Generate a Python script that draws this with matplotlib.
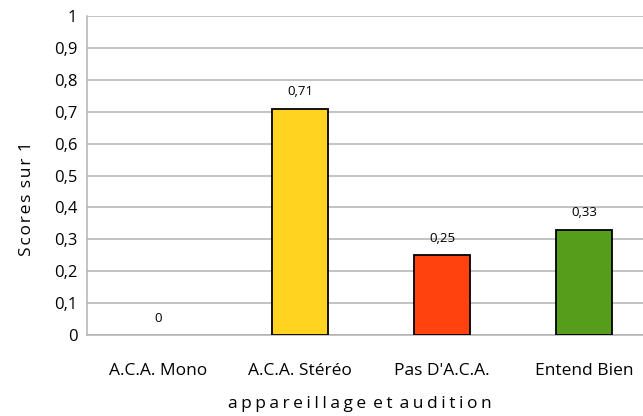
import matplotlib.pyplot as plt

categories = ["A.C.A. Mono", "A.C.A. Stéréo", "Pas D'A.C.A.", "Entend Bien"]
scores = [0, 0.71, 0.25, 0.33]
value_labels = ["0", "0,71", "0,25", "0,33"]
colors = ["#FFD320", "#FFD320", "#FF420E", "#579D1C"]
y_ticks = [0, 0.1, 0.2, 0.3, 0.4, 0.5, 0.6, 0.7, 0.8, 0.9, 1]
x_title = "appareillage et audition"
y_title = "Scores sur 1"

plt.rcParams['font.family'] = ['Open Sans', 'DejaVu Sans']


def spaced(text, gap="\u200a"):
    # stretch the letters apart, like the spreadsheet titles
    return gap.join(text.replace(" ", "\u2009"))


fig = plt.figure(figsize=(6.43, 4.16), dpi=100)
# the plot area runs past the right edge of the picture
ax = fig.add_axes([87 / 643, 81 / 416, 568 / 643, 319 / 416])

x = range(len(categories))
edges = ["black" if v > 0 else "none" for v in scores]
ax.bar(x, scores, width=0.40, color=colors, edgecolor=edges, linewidth=1.3, zorder=3)

for xi, val, lab in zip(x, scores, value_labels):
    ax.text(xi, val + 0.053, lab, ha="center", va="center", fontsize=9.5, color="black")

ax.set_ylim(0, 1)
ax.set_xlim(-0.5, 3.5)
ax.set_yticks(y_ticks)
ax.set_yticklabels([("%g" % t).replace(".", ",") for t in y_ticks], fontsize=12)
ax.set_xticks(list(x))
ax.set_xticklabels(categories, fontsize=12.5)
ax.tick_params(axis="y", length=0, pad=7)
ax.tick_params(axis="x", length=0, pad=20)

ax.yaxis.grid(True, color="#b3b3b3", linewidth=1.1, zorder=0)
for side in ["top", "right"]:
    ax.spines[side].set_visible(False)
for side in ["left", "bottom"]:
    ax.spines[side].set_color("#b3b3b3")
    ax.spines[side].set_linewidth(1.1)

ax.set_ylabel(spaced(y_title), fontsize=12.5)
ax.set_xlabel(spaced(x_title, "\u200a\u200a").replace("\u2009", ""), fontsize=12.5)
ax.yaxis.set_label_coords(-0.092, 0.426)
ax.xaxis.set_label_coords(0.48, -0.19)

fig.savefig("out.png", dpi=100)
